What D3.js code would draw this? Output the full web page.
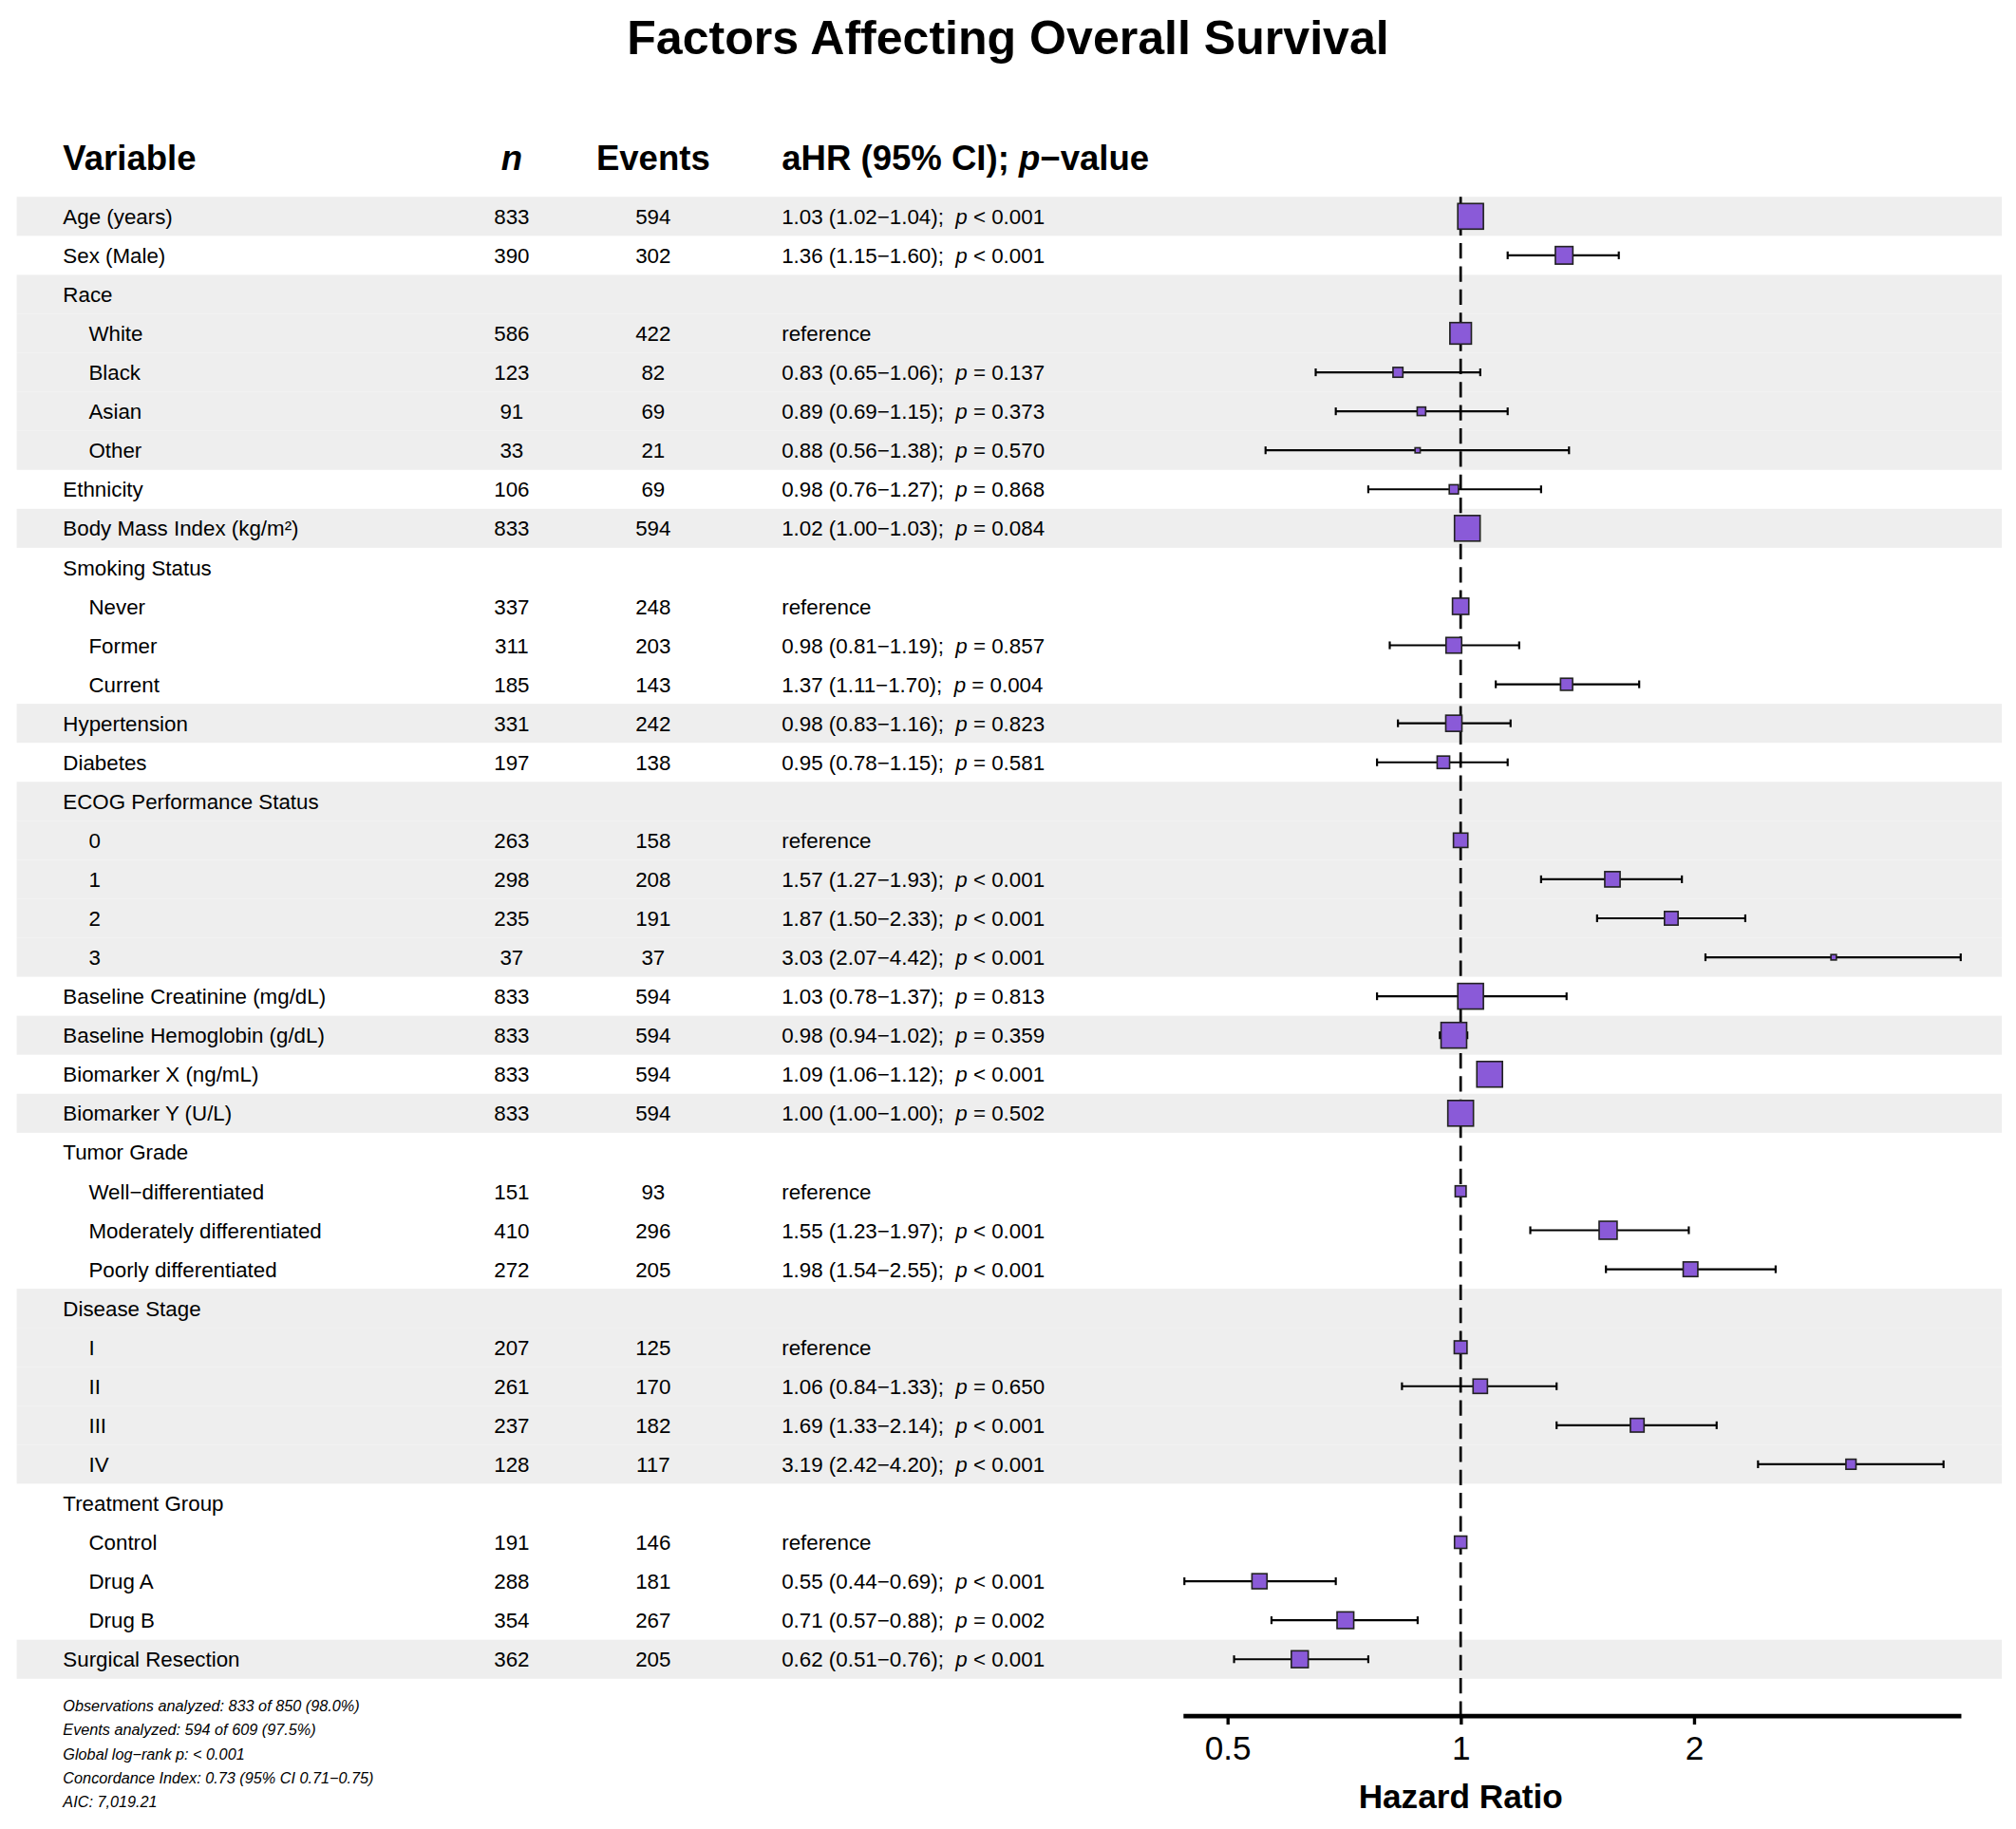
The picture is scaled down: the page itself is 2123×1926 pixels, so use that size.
<!DOCTYPE html>
<html><head><meta charset="utf-8">
<script src="https://cdn.jsdelivr.net/npm/d3@7"></script>
<style>body{margin:0;background:#fff}text{font-family:"Liberation Sans",Arial,sans-serif}</style>
</head><body>
<svg id="c" width="2123" height="1926" viewBox="0 0 1568 1422"></svg>
<script>
const labels = ["Age (years)","Sex (Male)","Race","White","Black","Asian","Other","Ethnicity","Body Mass Index (kg/m²)","Smoking Status","Never","Former","Current","Hypertension","Diabetes","ECOG Performance Status","0","1","2","3","Baseline Creatinine (mg/dL)","Baseline Hemoglobin (g/dL)","Biomarker X (ng/mL)","Biomarker Y (U/L)","Tumor Grade","Well−differentiated","Moderately differentiated","Poorly differentiated","Disease Stage","I","II","III","IV","Treatment Group","Control","Drug A","Drug B","Surgical Resection"];
const indent = [0,0,0,1,1,1,1,0,0,0,1,1,1,0,0,0,1,1,1,1,0,0,0,0,0,1,1,1,0,1,1,1,1,0,1,1,1,0];
const shaded = [1,0,1,1,1,1,1,0,1,0,0,0,0,1,0,1,1,1,1,1,0,1,0,1,0,0,0,0,1,1,1,1,1,0,0,0,0,1];
const nVals = [833,390,null,586,123,91,33,106,833,null,337,311,185,331,197,null,263,298,235,37,833,833,833,833,null,151,410,272,null,207,261,237,128,null,191,288,354,362];
const events = [594,302,null,422,82,69,21,69,594,null,248,203,143,242,138,null,158,208,191,37,594,594,594,594,null,93,296,205,null,125,170,182,117,null,146,181,267,205];
const hr = [1.03,1.36,null,1,0.83,0.89,0.88,0.98,1.02,null,1,0.98,1.37,0.98,0.95,null,1,1.57,1.87,3.03,1.03,0.98,1.09,1.00,null,1,1.55,1.98,null,1,1.06,1.69,3.19,null,1,0.55,0.71,0.62];
const lo = [1.02,1.15,null,null,0.65,0.69,0.56,0.76,1.00,null,null,0.81,1.11,0.83,0.78,null,null,1.27,1.50,2.07,0.78,0.94,1.06,1.00,null,null,1.23,1.54,null,null,0.84,1.33,2.42,null,null,0.44,0.57,0.51];
const hi = [1.04,1.60,null,null,1.06,1.15,1.38,1.27,1.03,null,null,1.19,1.70,1.16,1.15,null,null,1.93,2.33,4.42,1.37,1.02,1.12,1.00,null,null,1.97,2.55,null,null,1.33,2.14,4.20,null,null,0.69,0.88,0.76];
const pStr = ["< 0.001","< 0.001",null,null,"= 0.137","= 0.373","= 0.570","= 0.868","= 0.084",null,null,"= 0.857","= 0.004","= 0.823","= 0.581",null,null,"< 0.001","< 0.001","< 0.001","= 0.813","= 0.359","< 0.001","= 0.502",null,null,"< 0.001","< 0.001",null,null,"= 0.650","< 0.001","< 0.001",null,null,"< 0.001","= 0.002","< 0.001"];
const ticks = [0.5,1,2];
const notes = ["Observations analyzed: 833 of 850 (98.0%)","Events analyzed: 594 of 609 (97.5%)","Global log−rank p: < 0.001","Concordance Index: 0.73 (95% CI 0.71−0.75)","AIC: 7,019.21"];

const svg = d3.select("#c");
const y0 = 168, rh = 30.33;
const y = i => y0 + i*rh;
const x = d3.scaleLog().domain([0.438,4.42]).range([920,1525]);
const f2 = v => v.toFixed(2);

svg.append("text").attr("x",784).attr("y",42).attr("text-anchor","middle").attr("font-size",37).attr("font-weight","bold").text("Factors Affecting Overall Survival");
const hd = svg.append("g").attr("font-size",27).attr("font-weight","bold");
hd.append("text").attr("x",49).attr("y",132).text("Variable");
hd.append("text").attr("x",398).attr("y",132).attr("text-anchor","middle").attr("font-style","italic").text("n");
hd.append("text").attr("x",508).attr("y",132).attr("text-anchor","middle").text("Events");
const ah = hd.append("text").attr("x",608).attr("y",132);
ah.append("tspan").text("aHR (95% CI); ");
ah.append("tspan").attr("font-style","italic").text("p");
ah.append("tspan").text("−value");

labels.forEach((l,i)=>{
  if(shaded[i]) svg.append("rect").attr("x",13).attr("y",y(i)-rh/2).attr("width",1544).attr("height",rh).attr("fill","#eeeeee");
});
const tg = svg.append("g").attr("font-size",16.5);
labels.forEach((l,i)=>{
  const ty = y(i)+6;
  tg.append("text").attr("x",indent[i]?69:49).attr("y",ty).text(l);
  if(nVals[i]!=null) tg.append("text").attr("x",398).attr("y",ty).attr("text-anchor","middle").text(nVals[i]);
  if(events[i]!=null) tg.append("text").attr("x",508).attr("y",ty).attr("text-anchor","middle").text(events[i]);
  if(hr[i]!=null){
    const t = tg.append("text").attr("x",608).attr("y",ty);
    if(lo[i]==null) t.text("reference");
    else {
      t.append("tspan").text(`${f2(hr[i])} (${f2(lo[i])}−${f2(hi[i])});\u00a0\u00a0`);
      t.append("tspan").attr("font-style","italic").text("p");
      t.append("tspan").text("\u00a0"+pStr[i].replace(" ","\u00a0"));
    }
  }
});
svg.append("line").attr("x1",x(1)).attr("x2",x(1)).attr("y1",y0-rh/2).attr("y2",1334).attr("stroke","#000").attr("stroke-width",2).attr("stroke-dasharray","12,6");
const pg = svg.append("g");
hr.forEach((h,i)=>{
  if(h==null) return;
  const cy = y(i);
  if(lo[i]!=null){
    pg.append("line").attr("x1",x(lo[i])).attr("x2",x(hi[i])).attr("y1",cy).attr("y2",cy).attr("stroke","#000").attr("stroke-width",1.6);
    [lo[i],hi[i]].forEach(v=>pg.append("line").attr("x1",x(v)).attr("x2",x(v)).attr("y1",cy-3).attr("y2",cy+3).attr("stroke","#000").attr("stroke-width",1.6));
  }
  const s = 0.69*Math.sqrt(nVals[i]);
  pg.append("rect").attr("x",x(h)-s/2).attr("y",cy-s/2).attr("width",s).attr("height",s).attr("fill","#8a5ad8").attr("stroke","#222").attr("stroke-width",1.2);
});
const ax = svg.append("g").attr("transform","translate(0,1334)")
  .call(d3.axisBottom(x).tickValues(ticks).tickFormat(d=>String(d)).tickSize(7).tickSizeOuter(0));
ax.select(".domain").attr("stroke-width",3.5);
ax.selectAll(".tick line").attr("stroke-width",2.5);
ax.selectAll(".tick text").attr("font-size",26).attr("dy","0.95em").attr("font-family","Liberation Sans, Arial");
svg.append("text").attr("x",x(1)).attr("y",1406).attr("text-anchor","middle").attr("font-size",26).attr("font-weight","bold").text("Hazard Ratio");
notes.forEach((n,i)=>svg.append("text").attr("x",49).attr("y",1331+i*18.5).attr("font-size",12).attr("font-style","italic").text(n));
</script></body></html>
